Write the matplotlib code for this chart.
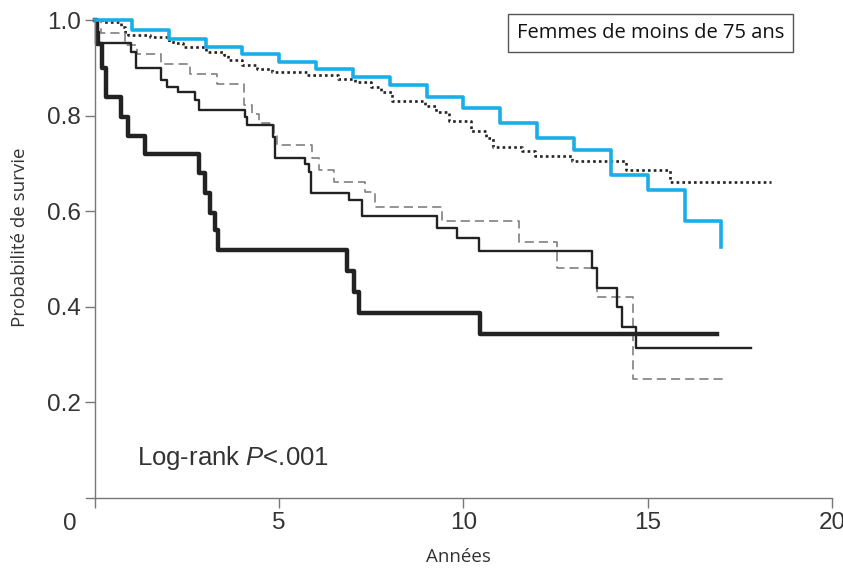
import numpy as np
import matplotlib.pyplot as plt

# Kaplan-Meier curves (years, survival)
t_blue = [0, 1, 2, 3, 4, 5, 6, 7, 8, 9, 10, 11, 12, 13, 14, 15, 16, 17]
s_blue = [1.0, 0.979, 0.961, 0.944, 0.928, 0.912, 0.898, 0.881, 0.864, 0.840,
          0.815, 0.784, 0.754, 0.728, 0.676, 0.644, 0.580, 0.526]

t_dot = [0, 0.2, 0.7, 0.8, 0.9, 1.5, 2.0, 2.2, 2.4, 3.0, 3.5, 3.6, 4.0, 4.4, 4.8,
         5.75, 6.6, 7.05, 7.5, 7.75, 8.05, 8.95, 9.25, 9.6, 10.2, 10.6, 10.8,
         11.6, 11.95, 12.95, 14.4, 15.6, 18.35]
s_dot = [1.0, 0.996, 0.985, 0.975, 0.968, 0.964, 0.955, 0.951, 0.944, 0.933,
         0.926, 0.916, 0.905, 0.898, 0.891, 0.884, 0.877, 0.870, 0.860, 0.849,
         0.830, 0.821, 0.807, 0.789, 0.768, 0.754, 0.735, 0.726, 0.716, 0.705,
         0.686, 0.661, 0.661]

t_dash = [0, 0.15, 0.8, 1.15, 1.8, 2.58, 3.3, 4.03, 4.26, 4.44, 4.85, 4.93, 5.88,
          6.07, 6.48, 7.34, 7.61, 9.42, 11.5, 12.55, 13.63, 14.61, 17.12]
s_dash = [1.0, 0.972, 0.947, 0.928, 0.909, 0.888, 0.866, 0.823, 0.804, 0.785,
          0.758, 0.739, 0.712, 0.686, 0.661, 0.640, 0.609, 0.580, 0.535, 0.481,
          0.420, 0.249, 0.249]

t_thin = [0, 0.05, 0.1, 0.98, 1.12, 1.8, 1.94, 2.25, 2.7, 2.81, 4.08, 4.12, 4.83,
          4.89, 5.71, 5.80, 5.85, 6.88, 7.25, 9.28, 9.83, 10.42, 13.5, 13.63,
          14.16, 14.31, 14.67, 17.8]
s_thin = [1.0, 0.975, 0.951, 0.934, 0.899, 0.874, 0.860, 0.849, 0.833, 0.811,
          0.797, 0.781, 0.755, 0.711, 0.699, 0.681, 0.639, 0.623, 0.589, 0.565,
          0.544, 0.516, 0.481, 0.440, 0.400, 0.358, 0.314, 0.314]

t_thick = [0, 0.05, 0.2, 0.31, 0.71, 0.9, 1.35, 2.81, 2.99, 3.12, 3.26, 3.35,
           6.84, 7.02, 7.16, 10.44, 16.89]
s_thick = [1.0, 0.95, 0.90, 0.839, 0.797, 0.758, 0.720, 0.680, 0.638, 0.596,
           0.561, 0.519, 0.474, 0.432, 0.387, 0.344, 0.344]

x_ticks = [0, 5, 10, 15, 20]
y_ticks = [0.2, 0.4, 0.6, 0.8, 1.0]

tick_font = 'Liberation Sans'
label_font = 'Open Sans'
axis_col = '#777777'
text_col = '#333333'

# italic P in the log-rank note, same face as the tick labels
plt.rcParams['mathtext.fontset'] = 'custom'
plt.rcParams['mathtext.rm'] = 'Liberation Sans'
plt.rcParams['mathtext.it'] = 'Liberation Sans:italic'

fig = plt.figure(figsize=(8.43, 5.69), dpi=100)
ax = fig.add_axes([0.1018, 0.1248, 0.885, 0.840])

ax.step(t_dot, s_dot, where='post', color='#222222', lw=1.9,
        linestyle=(0, (1, 1.2)), clip_on=False)
ax.step(t_dash, s_dash, where='post', color='#808080', lw=1.2,
        linestyle=(0, (5.5, 3)), clip_on=False)
ax.step(t_thin, s_thin, where='post', color='#222222', lw=1.7, clip_on=False)
ax.step(t_thick, s_thick, where='post', color='#222222', lw=3.2, clip_on=False)
ax.step(t_blue, s_blue, where='post', color='#1aaee8', lw=2.6, clip_on=False)

ax.set_xlim(-0.25, 20)
ax.set_ylim(0, 1.0)

for side in ['top', 'right']:
    ax.spines[side].set_visible(False)
ax.spines['left'].set_position(('data', 0))
ax.spines['left'].set_color(axis_col)
ax.spines['bottom'].set_color(axis_col)
ax.spines['left'].set_linewidth(1.0)
ax.spines['bottom'].set_linewidth(1.0)

ax.set_xticks(x_ticks)
ax.set_xticklabels([''] + [str(v) for v in x_ticks[1:]])
ax.set_yticks(y_ticks)
ax.set_yticklabels([f"{v:.1f}" for v in y_ticks])
ax.tick_params(axis='both', colors=axis_col, length=7, width=1.0,
               labelsize=17.5, labelcolor=text_col, pad=3)
for lab in ax.get_xticklabels() + ax.get_yticklabels():
    lab.set_family(tick_font)

# origin label sits left of the axis in the original
ax.annotate('0', xy=(0, 0), xytext=(-18, -11), textcoords='offset points',
            ha='center', va='top', fontsize=17.5, family=tick_font, color=text_col)

ax.set_xlabel("Années", family=label_font, fontsize=13.5, color=text_col, labelpad=10)
fig.text(0.024, 0.583, "Probabilité de survie", rotation=90, family=label_font,
         fontsize=13.5, color=text_col, ha='center', va='center')

ax.text(0.068, 0.084, "Log-rank $P$<.001", transform=ax.transAxes, family=tick_font,
        fontsize=18.5, color=text_col, ha='left', va='center')

ax.text(0.757, 0.973, "Femmes de moins de 75 ans", transform=ax.transAxes,
        family=label_font, fontsize=14.5, color='#111111', ha='center', va='center',
        bbox=dict(boxstyle='square,pad=0.45', facecolor='white', edgecolor='#555555', lw=1.0))

plt.savefig("out.png", dpi=100)
plt.close(fig)
